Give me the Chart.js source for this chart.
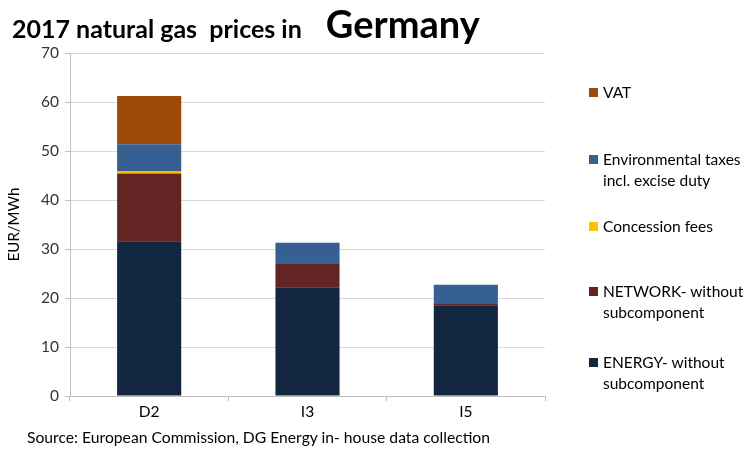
<!DOCTYPE html>
<html>
<head>
<meta charset="utf-8">
<script src="https://cdn.jsdelivr.net/npm/chart.js@4"></script>
<style>
  body { margin: 0; background: #fff; font-family: Lato, sans-serif; }
  #wrap { position: relative; width: 746px; height: 450px; }
  #title { position: absolute; left: 12px; top: 0px; font-weight: bold; color: #000; white-space: nowrap; }
  #title .a { font-size: 25px; }
  #title .b { font-size: 38px; margin-left: 24px; }
  #source { position: absolute; left: 27px; top: 428px; font-size: 15.7px; color: #000; white-space: nowrap; }
  .leg { position: absolute; left: 589px; font-size: 15.5px; line-height: 21px; color: #000; }
  .leg span.box { position: absolute; left: 0; top: 6px; width: 9px; height: 9px; }
  .leg div { margin-left: 14px; }
</style>
</head>
<body>
<div id="wrap">
  <canvas id="chart" width="746" height="450"></canvas>
  <div id="title"><span class="a">2017 natural gas&nbsp; prices in</span><span class="b">Germany</span></div>
  <div id="legend"></div>
  <div id="source">Source: European Commission, DG Energy in- house data collection</div>
</div>
<script>
const categories = ['D2', 'I3', 'I5'];
const energy = [31.6, 22.2, 18.5];
const network = [13.8, 4.9, 0.3];
const concession = [0.4, 0, 0];
const envTaxes = [5.6, 4.2, 3.9];
const vat = [9.8, 0, 0];
const yTicks = [0, 10, 20, 30, 40, 50, 60, 70];

const series = [
  { label: 'ENERGY- without subcomponent', lines: ['ENERGY- without', 'subcomponent'], data: energy, color: '#13263f', top: 352 },
  { label: 'NETWORK- without subcomponent', lines: ['NETWORK- without', 'subcomponent'], data: network, color: '#632523', top: 281 },
  { label: 'Concession fees', lines: ['Concession fees'], data: concession, color: '#ffc000', top: 216 },
  { label: 'Environmental taxes incl. excise duty', lines: ['Environmental taxes', 'incl. excise duty'], data: envTaxes, color: '#376092', top: 149 },
  { label: 'VAT', lines: ['VAT'], data: vat, color: '#9c4a08', top: 82 }
];

// legenda a destra
const legend = document.getElementById('legend');
series.forEach(s => {
  const el = document.createElement('div');
  el.className = 'leg';
  el.style.top = s.top + 'px';
  el.innerHTML = '<span class="box" style="background:' + s.color + '"></span>' +
    s.lines.map(l => '<div>' + l + '</div>').join('');
  legend.appendChild(el);
});

const ctx = document.getElementById('chart').getContext('2d');
new Chart(ctx, {
  type: 'bar',
  data: {
    labels: categories,
    datasets: series.map(s => ({
      label: s.label,
      data: s.data,
      backgroundColor: s.color,
      borderWidth: 0,
      barPercentage: 0.405,
      categoryPercentage: 1
    }))
  },
  options: {
    responsive: false,
    animation: false,
    layout: { padding: { left: 0, right: 201, top: 53, bottom: 22 } },
    plugins: {
      legend: { display: false },
      tooltip: { enabled: false }
    },
    scales: {
      x: {
        stacked: true,
        afterFit: scale => { scale.height = 32; },
        grid: { drawOnChartArea: false, color: '#bfbfbf', tickLength: 5, offset: true },
        border: { color: '#bfbfbf' },
        ticks: { color: '#000', font: { family: 'Lato', size: 15.5 }, padding: 2 }
      },
      y: {
        stacked: true,
        min: 0,
        max: 70,
        afterFit: scale => { scale.width = 70; },
        afterBuildTicks: scale => { scale.ticks = yTicks.map(v => ({ value: v })); },
        grid: { color: '#d9d9d9', tickColor: '#bfbfbf', tickLength: 5 },
        border: { color: '#bfbfbf' },
        title: { display: true, text: 'EUR/MWh', color: '#000', font: { family: 'Lato', size: 15 }, padding: { top: 5, bottom: 0 } },
        ticks: { color: '#333', font: { family: 'Lato', size: 15.5 }, padding: 6 }
      }
    }
  }
});
</script>
</body>
</html>
